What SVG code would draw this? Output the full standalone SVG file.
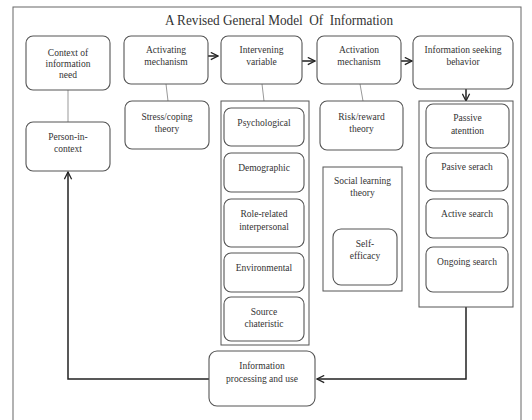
<svg xmlns="http://www.w3.org/2000/svg" width="532" height="420" viewBox="0 0 532 420">
<defs>
<style>
.box{fill:#fff;stroke:#555;stroke-width:1.1}
.cont{fill:#fff;stroke:#555;stroke-width:1}
.t{font-family:"Liberation Serif","Times New Roman",serif;font-size:9.5px;fill:#333;text-anchor:middle}
.title{font-family:"Liberation Serif","Times New Roman",serif;font-size:15.5px;fill:#333;text-anchor:middle}
.thin{stroke:#999;stroke-width:1;fill:none}
.arr{stroke:#222;stroke-width:1.5;fill:none}
</style>
<marker id="chev" viewBox="0 0 10 10" refX="9" refY="5" markerWidth="9" markerHeight="9" markerUnits="userSpaceOnUse" orient="auto">
<path d="M1,1 L9,5 L1,9" fill="none" stroke="#222" stroke-width="1.4"/>
</marker>
</defs>
<rect x="0" y="0" width="532" height="420" fill="#fff"/>
<rect id="frame" x="13" y="7" width="508" height="430" fill="none" stroke="#666" stroke-width="1"/>
<text class="title" x="279" y="25" textLength="228" lengthAdjust="spacingAndGlyphs" xml:space="preserve">A Revised General Model  Of  Information</text>

<g id="connectors">
<line class="thin" x1="68" y1="90" x2="68" y2="122"/>
<line class="thin" x1="166" y1="84" x2="168" y2="101"/>
<line class="thin" x1="262" y1="84" x2="264" y2="101"/>
<line class="thin" x1="360" y1="84" x2="363" y2="101"/>
<line class="arr" x1="208" y1="56" x2="218" y2="56" marker-end="url(#chev)"/>
<line class="arr" x1="302" y1="61" x2="315" y2="61" marker-end="url(#chev)"/>
<line class="arr" x1="401" y1="61" x2="412" y2="61" marker-end="url(#chev)"/>
<line class="arr" x1="466" y1="89" x2="466" y2="101" marker-end="url(#chev)"/>
<polyline class="arr" points="466,307 466,379 317,379" marker-end="url(#chev)"/>
<polyline class="arr" points="209,379 68,379 68,172" marker-end="url(#chev)"/>
</g>

<g id="context">
<rect class="box" x="26" y="36" width="84" height="54" rx="7"/>
<text class="t" x="68" y="56">Context of</text>
<text class="t" x="68" y="67">information</text>
<text class="t" x="68" y="78">need</text>
</g>
<g id="activating">
<rect class="box" x="124" y="36" width="84" height="48" rx="7"/>
<text class="t" x="166" y="53">Activating</text>
<text class="t" x="166" y="65">mechanism</text>
</g>
<g id="intervening">
<rect class="box" x="221" y="36" width="81" height="48" rx="7"/>
<text class="t" x="261.5" y="53">Intervening</text>
<text class="t" x="261.5" y="65">variable</text>
</g>
<g id="activation">
<rect class="box" x="317" y="36" width="84" height="48" rx="7"/>
<text class="t" x="359" y="53">Activation</text>
<text class="t" x="359" y="65">mechanism</text>
</g>
<g id="seeking">
<rect class="box" x="413" y="36" width="100" height="53" rx="7"/>
<text class="t" x="463" y="53">Information seeking</text>
<text class="t" x="463" y="65">behavior</text>
</g>

<g id="person">
<rect class="box" x="26" y="122" width="84" height="49" rx="7"/>
<text class="t" x="68" y="140">Person-in-</text>
<text class="t" x="68" y="152">context</text>
</g>
<g id="stress">
<rect class="box" x="125" y="101" width="84" height="48" rx="7"/>
<text class="t" x="167" y="120">Stress/coping</text>
<text class="t" x="167" y="132">theory</text>
</g>

<g id="variables">
<rect class="cont" x="221" y="101" width="88" height="244"/>
<g id="psychological">
<rect class="box" x="224" y="108" width="80" height="38" rx="7"/>
<text class="t" x="264" y="126">Psychological</text>
</g>
<g id="demographic">
<rect class="box" x="224" y="153" width="80" height="39" rx="7"/>
<text class="t" x="264" y="171">Demographic</text>
</g>
<g id="role">
<rect class="box" x="224" y="199" width="80" height="48" rx="7"/>
<text class="t" x="264" y="217">Role-related</text>
<text class="t" x="264" y="230">interpersonal</text>
</g>
<g id="environmental">
<rect class="box" x="224" y="253" width="80" height="39" rx="7"/>
<text class="t" x="264" y="271">Environmental</text>
</g>
<g id="source">
<rect class="box" x="224" y="297" width="80" height="44" rx="7"/>
<text class="t" x="264" y="315">Source</text>
<text class="t" x="264" y="327">chateristic</text>
</g>
</g>

<g id="risk">
<rect class="box" x="320" y="101" width="83" height="49" rx="7"/>
<text class="t" x="361.5" y="120">Risk/reward</text>
<text class="t" x="361.5" y="132">theory</text>
</g>
<g id="social">
<rect class="cont" x="323" y="167" width="79" height="124"/>
<text class="t" x="362.5" y="184">Social learning</text>
<text class="t" x="362.5" y="196">theory</text>
<g id="selfefficacy">
<rect class="box" x="333" y="229" width="64" height="56" rx="8"/>
<text class="t" x="365" y="247">Self-</text>
<text class="t" x="365" y="259">efficacy</text>
</g>
</g>

<g id="behaviors">
<rect class="cont" x="419" y="101" width="94" height="206"/>
<g id="passive">
<rect class="box" x="426" y="104" width="83" height="44" rx="7"/>
<text class="t" x="467.5" y="121">Passive</text>
<text class="t" x="467.5" y="134">atenttion</text>
</g>
<g id="pasivesearch">
<rect class="box" x="426" y="153" width="82" height="38" rx="7"/>
<text class="t" x="467" y="170">Pasive serach</text>
</g>
<g id="active">
<rect class="box" x="426" y="199" width="82" height="39" rx="7"/>
<text class="t" x="467" y="217">Active search</text>
</g>
<g id="ongoing">
<rect class="box" x="426" y="247" width="82" height="45" rx="7"/>
<text class="t" x="467" y="265">Ongoing search</text>
</g>
</g>

<g id="processing">
<rect class="box" x="209" y="351" width="106" height="55" rx="8"/>
<text class="t" x="262" y="369">Information</text>
<text class="t" x="262" y="382">processing and use</text>
</g>
</svg>
